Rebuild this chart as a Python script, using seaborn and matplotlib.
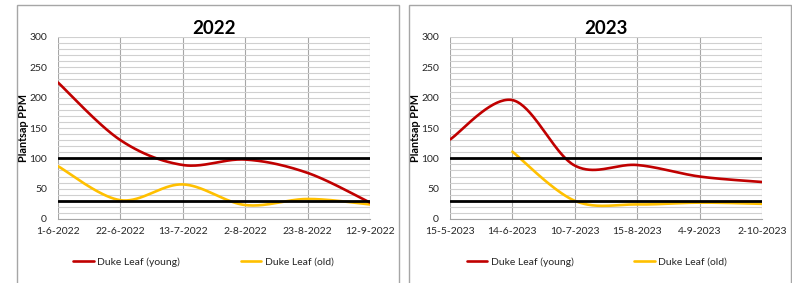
import numpy as np
import pandas as pd
import seaborn as sns
import matplotlib.pyplot as plt
from matplotlib.patches import Rectangle
from matplotlib.ticker import MultipleLocator

# --- data ---
dates_2022 = ['1-6-2022', '22-6-2022', '13-7-2022', '2-8-2022', '23-8-2022', '12-9-2022']
young_2022 = [225, 130, 89, 98, 76, 27]
old_2022 = [87, 31, 57, 23, 33, 24]

dates_2023 = ['15-5-2023', '14-6-2023', '10-7-2023', '15-8-2023', '4-9-2023', '2-10-2023']
young_2023 = [131, 196, 88, 89, 70, 61]
old_2023 = [np.nan, 111, 30, 24, 27, 25]

upper_limit = 100
lower_limit = 30

RED = '#C00000'
YELLOW = '#FFC000'

sns.set_theme(style='white')
plt.rcParams['font.family'] = ['Lato', 'DejaVu Sans']


def smooth(values, n=40):
    # Excel style smoothed line: cubic bezier through the points (catmull-rom control points)
    pts = [(i, v) for i, v in enumerate(values) if not np.isnan(v)]
    pts = np.array(pts, dtype=float)
    xs, ys = [], []
    t = np.linspace(0, 1, n)[:, None]
    for i in range(len(pts) - 1):
        p0 = pts[i - 1] if i > 0 else pts[i]
        p1, p2 = pts[i], pts[i + 1]
        p3 = pts[i + 2] if i + 2 < len(pts) else pts[i + 1]
        c1 = p1 + (p2 - p0) / 6
        c2 = p2 - (p3 - p1) / 6
        seg = ((1 - t) ** 3) * p1 + 3 * ((1 - t) ** 2) * t * c1 + 3 * (1 - t) * t ** 2 * c2 + t ** 3 * p2
        xs.extend(seg[:, 0])
        ys.extend(seg[:, 1])
    return pd.DataFrame({'x': xs, 'y': ys})


fig = plt.figure(figsize=(7.92, 2.83), dpi=100)

# panel borders
top = 1 - 5 / 283
for left in [17, 409]:
    fig.add_artist(Rectangle((left / 792, -0.05), 382 / 792, top + 0.05, transform=fig.transFigure,
                             fill=False, edgecolor='#A6A6A6', linewidth=1.0))

panels = [
    ('2022', dates_2022, young_2022, old_2022, 58, 0.466),
    ('2023', dates_2023, young_2023, old_2023, 450, 0.47),
]

for title, dates, young, old, left_px, leg_x in panels:
    ax = fig.add_axes([left_px / 792, 64 / 283, 312 / 792, 182 / 283])

    sy = smooth(young)
    so = smooth(old)
    sns.lineplot(data=sy, x='x', y='y', ax=ax, color=RED, linewidth=1.9, sort=False,
                 label='Duke Leaf (young)', zorder=4)
    sns.lineplot(data=so, x='x', y='y', ax=ax, color=YELLOW, linewidth=1.9, sort=False,
                 label='Duke Leaf (old)', zorder=3)

    ax.axhline(upper_limit, color='black', linewidth=2.0, zorder=5)
    ax.axhline(lower_limit, color='black', linewidth=2.0, zorder=5)

    ax.set_xlim(0, len(dates) - 1)
    ax.set_ylim(0, 300)
    ax.set_xticks(range(len(dates)))
    ax.set_xticklabels(dates)
    ax.yaxis.set_major_locator(MultipleLocator(50))
    ax.yaxis.set_minor_locator(MultipleLocator(10))

    ax.grid(which='major', axis='x', color='#A6A6A6', linewidth=0.8)
    ax.grid(which='major', axis='y', color='#D0D0D0', linewidth=0.8)
    ax.grid(which='minor', axis='y', color='#D0D0D0', linewidth=0.8)
    ax.set_axisbelow(True)

    for side in ['top', 'right', 'left']:
        ax.spines[side].set_visible(False)
    ax.spines['bottom'].set_color('#A6A6A6')
    ax.spines['bottom'].set_linewidth(0.8)

    ax.tick_params(axis='both', which='both', length=0, labelsize=7.5, colors='#262626')
    ax.tick_params(axis='y', pad=8)
    ax.tick_params(axis='x', pad=6)

    ax.set_title(title, fontsize=13.5, fontweight='bold', pad=2, color='black')
    ax.set_xlabel('')
    ax.set_ylabel('Plantsap PPM', fontsize=7.8, fontweight='bold', labelpad=0, color='black')

    ax.legend(loc='center', bbox_to_anchor=(leg_x, -0.235), ncol=2, frameon=False,
              fontsize=7.5, handlelength=2.0, handletextpad=0.3, columnspacing=5.8,
              labelcolor='#262626')

fig.savefig('out.png', dpi=100)
